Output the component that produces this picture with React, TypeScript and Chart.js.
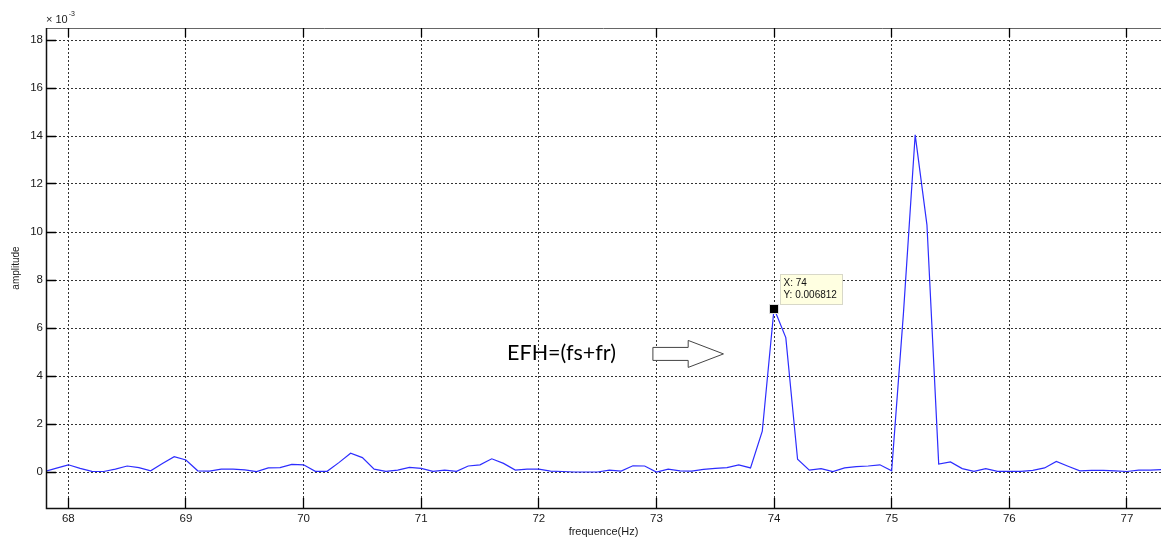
import { useEffect, useRef } from "react";
import { Chart, registerables } from "chart.js";

Chart.register(...registerables);

// frequency axis (Hz)
const frequencies = [
  67.8, 67.9, 68.0, 68.1, 68.2, 68.3, 68.4, 68.5, 68.6, 68.7, 68.8, 68.9,
  69.0, 69.1, 69.2, 69.3, 69.4, 69.5, 69.6, 69.7, 69.8, 69.9,
  70.0, 70.1, 70.2, 70.3, 70.4, 70.5, 70.6, 70.7, 70.8, 70.9,
  71.0, 71.1, 71.2, 71.3, 71.4, 71.5, 71.6, 71.7, 71.8, 71.9,
  72.0, 72.1, 72.2, 72.3, 72.4, 72.5, 72.6, 72.7, 72.8, 72.9,
  73.0, 73.1, 73.2, 73.3, 73.4, 73.5, 73.6, 73.7, 73.8, 73.9,
  74.0, 74.1, 74.2, 74.3, 74.4, 74.5, 74.6, 74.7, 74.8, 74.9,
  75.0, 75.1, 75.2, 75.3, 75.4, 75.5, 75.6, 75.7, 75.8, 75.9,
  76.0, 76.1, 76.2, 76.3, 76.4, 76.5, 76.6, 76.7, 76.8, 76.9,
  77.0, 77.1, 77.2, 77.3,
];

// amplitude in units of 10^-3
const amplitudesMilli = [
  0.02, 0.16, 0.30, 0.15, 0.03, 0.02, 0.12, 0.25, 0.18, 0.05, 0.35, 0.64,
  0.50, 0.05, 0.04, 0.12, 0.12, 0.09, 0.02, 0.17, 0.18, 0.32,
  0.30, 0.03, 0.03, 0.39, 0.78, 0.60, 0.12, 0.03, 0.08, 0.19,
  0.15, 0.03, 0.08, 0.03, 0.25, 0.30, 0.55, 0.36, 0.08, 0.12,
  0.12, 0.04, 0.02, 0.00, 0.00, 0.00, 0.08, 0.04, 0.26, 0.25,
  0.00, 0.12, 0.05, 0.04, 0.11, 0.15, 0.18, 0.30, 0.17, 1.70,
  6.812, 5.60, 0.53, 0.08, 0.14, 0.02, 0.17, 0.22, 0.25, 0.30,
  0.05, 6.60, 14.05, 10.30, 0.33, 0.42, 0.14, 0.03, 0.14, 0.03,
  0.03, 0.03, 0.07, 0.17, 0.44, 0.24, 0.05, 0.07, 0.07, 0.05,
  0.02, 0.08, 0.08, 0.10,
];

const xTickValues = [68, 69, 70, 71, 72, 73, 74, 75, 76, 77];
const yTickValues = [0, 2, 4, 6, 8, 10, 12, 14, 16, 18];

const xLabel = "frequence(Hz)";
const yLabel = "amplitude";
const cursorFrequency = 74;
const annotationText = "EFH=(fs+fr)";

const AXIS_FONT = "Arial, 'Liberation Sans', sans-serif";

const align = (p: number) => Math.round(p - 0.5) + 0.5;

const matlabPlugin = {
  id: "matlabDecor",
  afterDraw(chart: any) {
    const { ctx, chartArea: a, scales } = chart;
    const xs = scales.x;
    const ys = scales.y;
    ctx.save();
    ctx.setLineDash([]);

    // top border of the box
    ctx.strokeStyle = "#666";
    ctx.lineWidth = 1;
    ctx.beginPath();
    ctx.moveTo(a.left, align(a.top));
    ctx.lineTo(a.right, align(a.top));
    ctx.stroke();

    // left / bottom axis lines
    ctx.strokeStyle = "#111";
    ctx.lineWidth = 1.5;
    ctx.beginPath();
    ctx.moveTo(a.left + 0.5, a.top);
    ctx.lineTo(a.left + 0.5, a.bottom + 0.5);
    ctx.lineTo(a.right, a.bottom + 0.5);
    ctx.stroke();

    // inward tick marks (solid)
    ctx.strokeStyle = "#000";
    ctx.lineWidth = 1.3;
    ctx.beginPath();
    for (const v of xTickValues) {
      const px = align(xs.getPixelForValue(v));
      ctx.moveTo(px, a.bottom);
      ctx.lineTo(px, a.bottom - 10);
      ctx.moveTo(px, a.top);
      ctx.lineTo(px, a.top + 9);
    }
    for (const v of yTickValues) {
      const py = align(ys.getPixelForValue(v));
      ctx.moveTo(a.left, py);
      ctx.lineTo(a.left + 10, py);
    }
    ctx.stroke();

    // exponent label
    ctx.fillStyle = "#1a1a1a";
    ctx.textBaseline = "alphabetic";
    ctx.textAlign = "left";
    ctx.font = `11px ${AXIS_FONT}`;
    const base = "\u00d7 10";
    ctx.fillText(base, a.left, a.top - 5);
    const w = ctx.measureText(base).width;
    ctx.font = `7px ${AXIS_FONT}`;
    ctx.fillText("-3", a.left + w + 1, a.top - 12);

    // axis titles
    ctx.font = `11px ${AXIS_FONT}`;
    ctx.textAlign = "center";
    ctx.textBaseline = "middle";
    ctx.fillText(xLabel, (a.left + a.right) / 2, a.bottom + 24);
    ctx.save();
    ctx.translate(16, (a.top + a.bottom) / 2);
    ctx.rotate(-Math.PI / 2);
    ctx.font = `10px ${AXIS_FONT}`;
    ctx.fillText(yLabel, 0, 0);
    ctx.restore();

    // annotation text + hollow arrow
    ctx.font = "21.5px Lato, 'Open Sans', sans-serif";
    ctx.fillStyle = "#000";
    ctx.textAlign = "left";
    ctx.textBaseline = "alphabetic";
    const tx = xs.getPixelForValue(71.73);
    const ty = ys.getPixelForValue(4.67);
    ctx.fillText(annotationText, tx, ty);

    const ax0 = xs.getPixelForValue(72.97);
    const axH = xs.getPixelForValue(73.27);
    const axT = xs.getPixelForValue(73.57);
    const ayc = ys.getPixelForValue(4.92);
    ctx.beginPath();
    ctx.moveTo(ax0, ayc - 6.5);
    ctx.lineTo(axH, ayc - 6.5);
    ctx.lineTo(axH, ayc - 13.5);
    ctx.lineTo(axT, ayc);
    ctx.lineTo(axH, ayc + 13.5);
    ctx.lineTo(axH, ayc + 6.5);
    ctx.lineTo(ax0, ayc + 6.5);
    ctx.closePath();
    ctx.fillStyle = "#fff";
    ctx.fill();
    ctx.strokeStyle = "#444";
    ctx.lineWidth = 1;
    ctx.stroke();

    // data cursor
    const idx = frequencies.indexOf(cursorFrequency);
    const mx = xs.getPixelForValue(frequencies[idx]);
    const my = ys.getPixelForValue(amplitudesMilli[idx]);
    ctx.fillStyle = "#000";
    ctx.fillRect(Math.round(mx) - 4, Math.round(my) - 4, 8, 8);
    ctx.strokeStyle = "#ddd";
    ctx.strokeRect(Math.round(mx) - 4.5, Math.round(my) - 4.5, 9, 9);

    const bx = Math.round(mx) + 6.5;
    const by = Math.round(my) - 34.5;
    const bw = 62;
    const bh = 30;
    ctx.fillStyle = "#ffffe1";
    ctx.fillRect(bx, by, bw, bh);
    ctx.strokeStyle = "#d8d8c8";
    ctx.strokeRect(bx, by, bw, bh);
    ctx.fillStyle = "#111";
    ctx.font = `10px ${AXIS_FONT}`;
    ctx.textBaseline = "middle";
    ctx.textAlign = "left";
    ctx.fillText(`X: ${frequencies[idx]}`, bx + 3, by + 9);
    ctx.fillText(`Y: ${(amplitudesMilli[idx] / 1000).toFixed(6)}`, bx + 3, by + 21);

    ctx.restore();
  },
};

export default function App() {
  const canvasRef = useRef<HTMLCanvasElement | null>(null);

  useEffect(() => {
    document.body.style.margin = "0";
    const canvas = canvasRef.current;
    if (!canvas) return;
    const chart = new Chart(canvas, {
      type: "line",
      data: {
        datasets: [
          {
            data: frequencies.map((f, i) => ({ x: f, y: amplitudesMilli[i] })),
            borderColor: "rgb(45,45,255)",
            borderWidth: 1.2,
            pointRadius: 0,
            tension: 0,
            fill: false,
          },
        ],
      },
      options: {
        animation: false,
        responsive: false,
        devicePixelRatio: 1,
        layout: { padding: { top: 28, left: 0, right: 0, bottom: 0 } },
        plugins: {
          legend: { display: false },
          tooltip: { enabled: false },
          title: { display: false },
        },
        scales: {
          x: {
            type: "linear",
            min: 67.81,
            max: 77.29,
            afterBuildTicks: (s: any) => {
              s.ticks = xTickValues.map((v) => ({ value: v }));
            },
            afterFit: (s: any) => {
              s.height = 31;
            },
            ticks: {
              padding: 4,
              color: "#1a1a1a",
              font: { family: AXIS_FONT, size: 11.5 },
              maxRotation: 0,
              autoSkip: false,
              callback: (v: any) => String(v),
            },
            grid: {
              color: "#333",
              lineWidth: 1,
              drawTicks: false,
            },
            border: { display: true, color: "#000", width: 1, dash: [2, 2] },
          },
          y: {
            type: "linear",
            min: -1.5,
            max: 18.5,
            afterBuildTicks: (s: any) => {
              s.ticks = yTickValues.map((v) => ({ value: v }));
            },
            afterFit: (s: any) => {
              s.width = 46;
            },
            ticks: {
              padding: 3,
              color: "#1a1a1a",
              font: { family: AXIS_FONT, size: 11.5 },
              autoSkip: false,
              callback: (v: any) => String(v),
            },
            grid: {
              color: "#333",
              lineWidth: 1,
              drawTicks: false,
            },
            border: { display: true, color: "#000", width: 1, dash: [2, 2] },
          },
        },
      },
      plugins: [matlabPlugin],
    } as any);
    return () => chart.destroy();
  }, []);

  return (
    <div style={{ position: "fixed", left: 0, top: 0, width: 1161, height: 539, background: "#fff" }}>
      <canvas ref={canvasRef} width={1161} height={539} style={{ display: "block" }} />
    </div>
  );
}
